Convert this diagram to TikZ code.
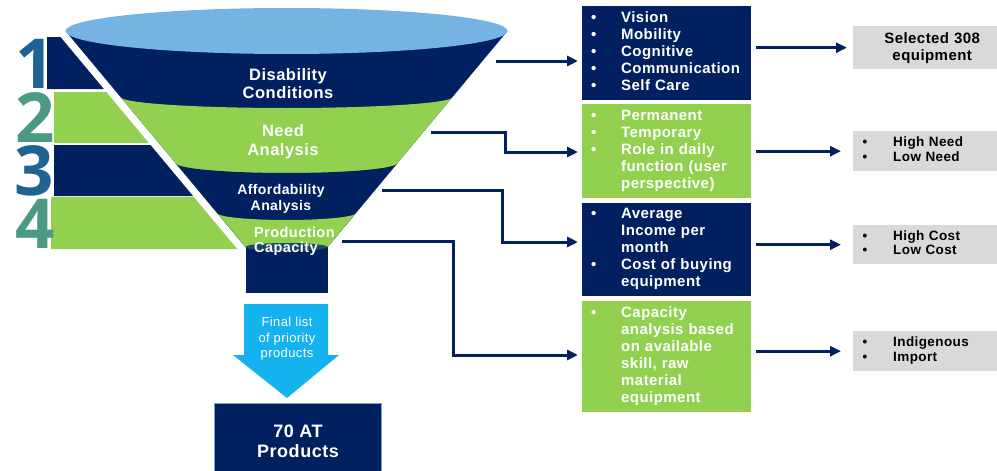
\documentclass[tikz,border=0pt]{standalone}
\usepackage{fontspec}
\setmainfont{Liberation Sans}[LetterSpace=3]
\newfontfamily\digitfont{Open Sans}
\usetikzlibrary{arrows.meta,positioning}

\definecolor{navy}{HTML}{002060}
\definecolor{leaf}{HTML}{92D050}
\definecolor{rim}{HTML}{74B3E2}
\definecolor{sky}{HTML}{14B2EE}
\definecolor{ash}{HTML}{D9D9D9}
\definecolor{numblue}{HTML}{1F6392}
\definecolor{numteal}{HTML}{4C9A84}
\definecolor{neckrim}{HTML}{1C4A5E}
\definecolor{edge}{HTML}{6FA8C8}

\tikzset{
  link/.style={draw=navy, line width=3pt, -{Triangle[length=11pt,width=10pt]}, shorten >=4pt},
  stage/.style={text=white, font=\bfseries\fontsize{16.5}{18.5}\selectfont, align=center, inner sep=0pt},
  numeral/.style={anchor=base, inner sep=0pt, text height=48pt, text depth=0pt, font=\digitfont\bfseries\fontsize{69}{69}\selectfont},
  listbox/.style={rectangle, text=white, inner xsep=9pt, inner ysep=0pt, text width=151pt, align=left, font=\bfseries\fontsize{15}{17}\selectfont},
  tagbox/.style={rectangle, fill=ash, text=black, inner xsep=9.5pt, inner ysep=0pt, text width=139pt, align=left, minimum height=40pt, anchor=north west, font=\bfseries\fontsize{13.5}{14.5}\selectfont},
}

\begin{document}
\begin{tikzpicture}[x=1pt,y=1pt]
\useasboundingbox (0,0) rectangle (997,-471);

% numbered bars, cut along the funnel side
\fill[navy] (47,-37) -- (60.5,-37) -- (103.8,-89) -- (47,-89) -- cycle;
\fill[leaf] (54,-92) -- (106.3,-92) -- (148.8,-143) -- (54,-143) -- cycle;
\fill[navy] (54,-145) -- (150.5,-145) -- (193,-196) -- (54,-196) -- cycle;
\fill[leaf] (51,-197) -- (193.8,-197) -- (237.2,-249) -- (51,-249) -- cycle;
\node[numeral, text=numblue] (n1) at (35,-88.5) {1};
\node[numeral, text=numteal] (n2) at (35,-142) {2};
\node[numeral, text=numblue] (n3) at (34,-195) {3};
\node[numeral, text=numteal] (n4) at (35,-248.5) {4};

% funnel bands
\fill[navy] (65.5,-31) -- (507.5,-31) -- (327.5,-247) -- (245.5,-247) -- cycle;
\fill[leaf] (120.5,-97) arc[start angle=180, end angle=360, x radius=166pt, y radius=11pt] -- (327.5,-247) -- (245.5,-247) -- cycle;
\fill[navy] (175.5,-163) arc[start angle=180, end angle=360, x radius=111pt, y radius=10pt] -- (327.5,-247) -- (245.5,-247) -- cycle;
\fill[leaf] (217.2,-213) arc[start angle=180, end angle=360, x radius=69.3pt, y radius=7pt] -- (327.5,-247) -- (245.5,-247) -- cycle;
\fill[rim] (286.5,-31) ellipse[x radius=221pt, y radius=23pt];
\fill[navy] (245.5,-247) rectangle (327.5,-293);
\fill[neckrim] (286.5,-247) ellipse[x radius=41pt, y radius=4pt];

\node[stage] (dc) at (288,-83.5) {Disability\\Conditions};
\node[stage, font=\bfseries\fontsize{16.5}{19}\selectfont] (na) at (283,-141.5) {Need\\Analysis};
\node[stage, font=\bfseries\fontsize{14}{16}\selectfont] (aa) at (281,-199) {Affordability\\Analysis};
\node[stage, font=\bfseries\fontsize{14.5}{15}\selectfont, align=left, anchor=west] (pc) at (254,-241.5) {Production\\Capacity};

% output of the funnel
\fill[sky] (244,-304) -- (328,-304) -- (328,-355) -- (339,-355) -- (287,-398) -- (233,-355) -- (244,-355) -- cycle;
\node[text=white, font=\fontsize{13}{15.5}\selectfont, align=center, inner sep=0pt] (fl) at (287,-339) {Final list\\of priority\\products};
\node[fill=navy, draw=edge, line width=1pt, minimum width=167pt, minimum height=75pt, text=white, font=\bfseries\fontsize{18}{20}\selectfont, align=center, anchor=north west] (at) at (214,-403) {70 AT\\Products};

% criteria boxes
\node[listbox, fill=navy, minimum height=94pt, anchor=north west] (dis) at (582,-6) {%
\begin{tabular}{@{}p{30pt}@{}l@{}}
\textbullet & Vision\\ \textbullet & Mobility\\ \textbullet & Cognitive\\ \textbullet & Communication\\ \textbullet & Self Care
\end{tabular}};
\node[listbox, fill=leaf, minimum height=94pt, below=3pt of dis] (need) {%
\begin{tabular}{@{}p{30pt}@{}l@{}}
\textbullet & Permanent\\ \textbullet & Temporary\\ \textbullet & Role in daily\\ & function (user\\ & perspective)
\end{tabular}};
\node[listbox, fill=navy, minimum height=93pt, below=5pt of need] (aff) {%
\begin{tabular}{@{}p{30pt}@{}l@{}}
\textbullet & Average\\ & Income per\\ & month\\ \textbullet & Cost of buying\\ & equipment
\end{tabular}};
\node[listbox, fill=leaf, minimum height=111pt, below=5pt of aff] (cap) {%
\begin{tabular}{@{}p{30pt}@{}l@{}}
\textbullet & Capacity\\ & analysis based\\ & on available\\ & skill, raw\\ & material\\ & equipment
\end{tabular}};

% results
\node[tagbox, align=center, minimum height=43pt, font=\bfseries\fontsize{15}{17}\selectfont] (sel) at (853,-26) {Selected 308\\equipment};
\node[tagbox] (lvl) at (853,-131) {%
\begin{tabular}{@{}p{30.5pt}@{}l@{}}
\textbullet & High Need\\ \textbullet & Low Need
\end{tabular}};
\node[tagbox, minimum height=39pt] (cst) at (853,-225) {%
\begin{tabular}{@{}p{30.5pt}@{}l@{}}
\textbullet & High Cost\\ \textbullet & Low Cost
\end{tabular}};
\node[tagbox] (src) at (853,-331) {%
\begin{tabular}{@{}p{30.5pt}@{}l@{}}
\textbullet & Indigenous\\ \textbullet & Import
\end{tabular}};

% funnel to criteria
\coordinate (f1) at (496,-61);
\coordinate (f2) at (431,-132);
\coordinate (e2) at (505,-152);
\coordinate (f3) at (382,-190);
\coordinate (e3) at (502,-242);
\coordinate (f4) at (342,-241);
\coordinate (e4) at (453,-355);
\draw[link] (f1) -- (f1 -| dis.west);
\draw[link] (f2) -| (e2) -- (e2 -| need.west);
\draw[link] (f3) -| (e3) -- (e3 -| aff.west);
\draw[link] (f4) -| (e4) -- (e4 -| cap.west);

% criteria to results
\draw[link, shorten <=5pt, shorten >=6pt] (dis.east |- sel.west) -- (sel.west);
\draw[link, shorten <=5pt, shorten >=12pt] (need.east |- lvl.west) -- (lvl.west);
\draw[link, shorten <=5pt, shorten >=12pt] (aff.east |- cst.west) -- (cst.west);
\draw[link, shorten <=5pt, shorten >=12pt] (cap.east |- src.west) -- (src.west);
\end{tikzpicture}
\end{document}
